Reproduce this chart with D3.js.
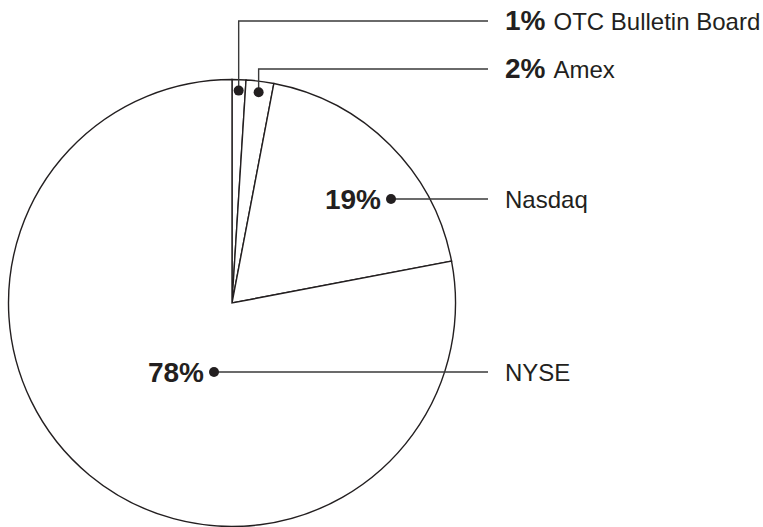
<!DOCTYPE html>
<meta charset="utf-8">
<title>Market share pie</title>
<script src="https://cdn.jsdelivr.net/npm/d3@7"></script>
<style>
  body { margin: 0; background: #fff; }
  text { font-family: "Liberation Sans", Arial, Helvetica, sans-serif; fill: #231f20; }
  .pct { font-weight: bold; font-size: 28px; }
  .name { font-size: 24px; }
</style>
<body>
<svg></svg>
<script>
// data
var names = ["OTC Bulletin Board", "Amex", "Nasdaq", "NYSE"];
var shares = [1, 2, 19, 78];
var pctLabels = ["1%", "2%", "19%", "78%"];

// label layout: row of the leader line, and for the big slices where the dot sits
var rowY = [21, 69, 199, 372];
var dotDx = [null, null, 159, -18];

var width = 763, height = 527;
var cx = 232, cy = 303, r = 223.5;
var lineEnd = 488, textX = 505;

var svg = d3.select("svg")
    .attr("width", width)
    .attr("height", height);

var pie = d3.pie().sort(null).value(function(d) { return d; });
var arcs = pie(shares);

var arc = d3.arc().innerRadius(0).outerRadius(r);
var inner = d3.arc().innerRadius(r - 11).outerRadius(r - 11);

var g = svg.append("g").attr("transform", "translate(" + cx + "," + cy + ")");

g.selectAll(".slice")
    .data(arcs)
    .enter().append("path")
    .attr("class", "slice")
    .attr("d", arc)
    .attr("fill", "#fff")
    .attr("stroke", "#231f20")
    .attr("stroke-width", 1.4);

// dot positions (in chart coords)
var dots = arcs.map(function(a, i) {
  if (dotDx[i] == null) {
    var c = inner.centroid(a);
    return [cx + c[0], cy + c[1]];
  }
  return [cx + dotDx[i], rowY[i]];
});

var lab = svg.append("g");

// leader lines
dots.forEach(function(p, i) {
  var pts;
  if (dotDx[i] == null) pts = [p, [p[0], rowY[i]], [lineEnd, rowY[i]]];
  else pts = [p, [lineEnd, rowY[i]]];
  lab.append("path")
      .attr("d", d3.line()(pts))
      .attr("fill", "none")
      .attr("stroke", "#3a3a3a")
      .attr("stroke-width", 1.4);
});

lab.selectAll(".dot")
    .data(dots)
    .enter().append("circle")
    .attr("class", "dot")
    .attr("cx", function(d) { return d[0]; })
    .attr("cy", function(d) { return d[1]; })
    .attr("r", 5)
    .attr("fill", "#231f20");

// texts
names.forEach(function(n, i) {
  if (dotDx[i] == null) {
    var t = lab.append("text").attr("x", textX).attr("y", rowY[i] + 9);
    t.append("tspan").attr("class", "pct").text(pctLabels[i]);
    t.append("tspan").attr("class", "name").attr("dx", 8).text(n);
  } else {
    lab.append("text").attr("class", "pct")
        .attr("x", dots[i][0] - 10).attr("y", rowY[i] + 10)
        .attr("text-anchor", "end")
        .text(pctLabels[i]);
    lab.append("text").attr("class", "name")
        .attr("x", textX).attr("y", rowY[i] + 9)
        .text(n);
  }
});
</script>
</body>
